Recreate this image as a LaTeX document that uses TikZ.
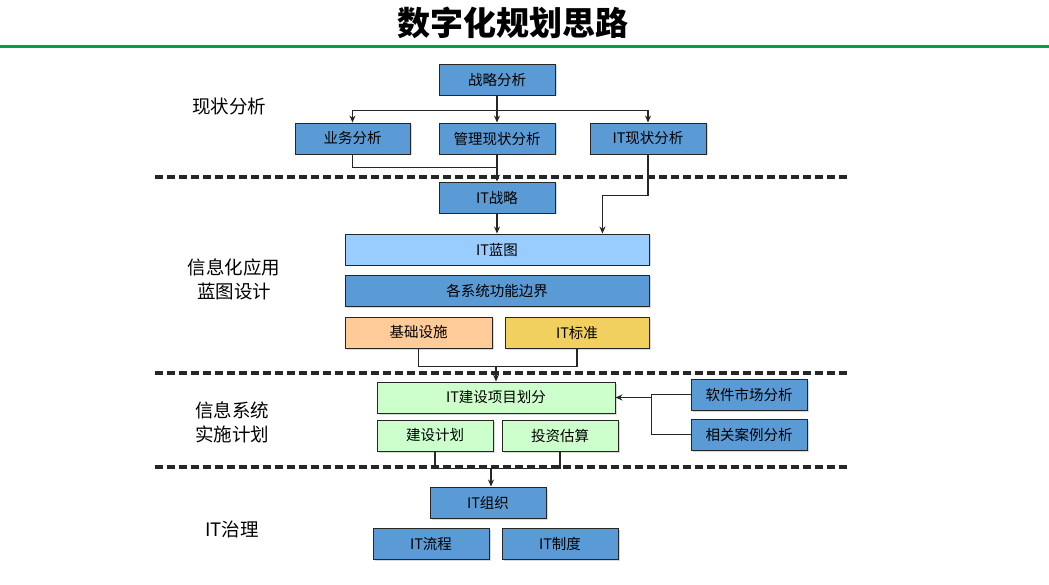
\documentclass[tikz,border=0pt]{standalone}
\usepackage{fontspec}
\setmainfont{Noto Sans CJK SC}
\newfontfamily\cjkbold{Noto Sans CJK SC Black}
\usetikzlibrary{arrows.meta,calc,shadows}
\definecolor{bblue}{HTML}{5B9BD5}
\definecolor{lblue}{HTML}{99CCFF}
\definecolor{peach}{HTML}{FFCC99}
\definecolor{ylw}{HTML}{F2D060}
\definecolor{lgreen}{HTML}{CCFFCC}
\definecolor{tgreen}{HTML}{00A04F}
\tikzset{
  bx/.style={draw=black!85, line width=0.9pt, minimum height=31pt, inner sep=0pt,
    font=\fontsize{14.5}{16}\selectfont,
    drop shadow={shadow xshift=1.5pt, shadow yshift=-1.5pt, fill=black!25, opacity=0.6}},
  blue/.style={bx, fill=bblue},
  conn/.style={draw=black!85, line width=1.3pt},
  arr/.style={conn, -{Stealth[length=7pt,width=6pt]}},
  sep/.style={draw=black!85, line width=4pt, dash pattern=on 8pt off 4pt},
  lab/.style={font=\fontsize{18.5}{24}\selectfont, align=center}
}
\begin{document}
\begin{tikzpicture}[x=1pt,y=-1pt]
\useasboundingbox (0,0) rectangle (1049,585);
% title
\node[font=\cjkbold\fontsize{33}{36}\selectfont] (title) at (513,23) {数字化规划思路};
\draw[tgreen, line width=3pt] (0,47) -- (1049,47);
% separators
\draw[sep] (155,177) -- (848,177);
\draw[sep] (155,373) -- (848,373);
\draw[sep] (155,467) -- (848,467);
% left labels
\node[lab] (l1) at (229,106) {现状分析};
\node[lab] (l2) at (234,279) {信息化应用\\蓝图设计};
\node[lab] (l3) at (232,422) {信息系统\\实施计划};
\node[lab] (l4) at (232,529) {IT治理};
% boxes
\node[blue, minimum width=116pt] (zl) at (497,79.5) {战略分析};
\node[blue, minimum width=115pt] (yw) at (352.5,138.5) {业务分析};
\node[blue, minimum width=116pt] (gl) at (497,138.5) {管理现状分析};
\node[blue, minimum width=116pt] (itx) at (648,138.5) {IT现状分析};
\node[blue, minimum width=116pt] (itzl) at (497,197.5) {IT战略};
\node[bx, fill=lblue, minimum width=304pt] (lt) at (497,249.5) {IT蓝图};
\node[blue, minimum width=304pt] (gx) at (497,290.5) {各系统功能边界};
\node[bx, fill=peach, minimum width=147pt] (jc) at (418.5,332.5) {基础设施};
\node[bx, fill=ylw, minimum width=144pt] (bz) at (577,332.5) {IT标准};
\node[bx, fill=lgreen, minimum width=238pt] (xm) at (496,397.5) {IT建设项目划分};
\node[bx, fill=lgreen, minimum width=116pt] (js) at (435,435.5) {建设计划};
\node[bx, fill=lgreen, minimum width=116pt] (tz) at (560,435.5) {投资估算};
\node[blue, minimum width=116pt] (rj) at (749,394.5) {软件市场分析};
\node[blue, minimum width=116pt] (xg) at (749,434.5) {相关案例分析};
\node[blue, minimum width=116pt] (zz) at (488,502.5) {IT组织};
\node[blue, minimum width=116pt] (lc) at (431,543.5) {IT流程};
\node[blue, minimum width=116pt] (zd) at (560,543.5) {IT制度};
% connectors
\draw[conn, line width=2.5pt] (zl.south) -- ++(0,15) coordinate (j1);
\draw[arr] (j1) -| (yw.north);
\draw[arr] (j1) -- (gl.north);
\draw[arr] (j1) -| (itx.north);
\coordinate (j2) at ($(gl.south)+(0,13)$);
\draw[conn] (yw.south) |- (j2);
\draw[arr] (gl.south) -- (itzl.north);
\draw[arr] (itx.south) |- ($(lt.north east)+(-47,-38)$) -- ($(lt.north east)+(-47,0)$);
\draw[arr] (itzl.south) -- (lt.north);
\draw[conn] (jc.south) -- ++(0,18) -| (bz.south);
\draw[arr] ($(xm.north)+(0,-16)$) -- (xm.north);
\draw[conn] (rj.west) -- ++(-39,0) coordinate (j5) |- (xg.west);
\draw[arr] (j5 |- xm.east) -- (xm.east);
\draw[conn] (js.south) -- ++(0,17) -| (tz.south);
\draw[arr] ($(zz.north)+(3,-19)$) -- ($(zz.north)+(3,0)$);
\end{tikzpicture}
\end{document}
